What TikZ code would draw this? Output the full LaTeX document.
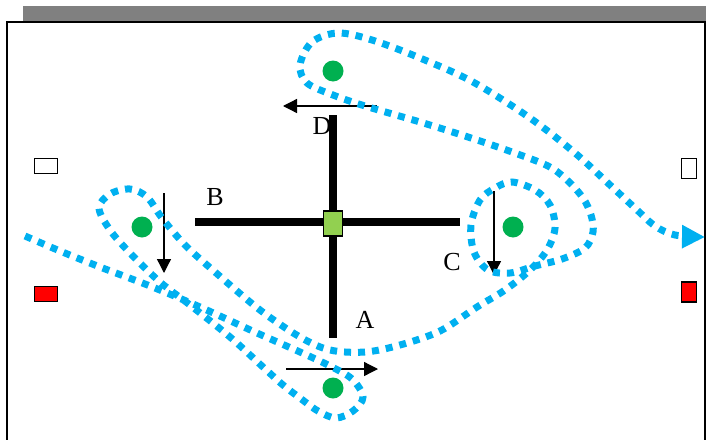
\documentclass[tikz,border=0pt]{standalone}
\usepackage{fontspec}
\setmainfont{Liberation Serif}
\usetikzlibrary{arrows.meta}
\definecolor{flowblue}{HTML}{00B0F0}
\definecolor{dotgreen}{HTML}{00B050}
\definecolor{boxgreen}{HTML}{92D050}
\definecolor{bargray}{HTML}{808080}
\tikzset{
  flow/.style={draw=flowblue, line width=7pt, dash pattern=on 7pt off 7pt},
  gdot/.style={circle, fill=dotgreen, minimum size=21pt, inner sep=0pt},
  bar/.style={line width=7.5pt},
  thinarrow/.style={line width=1.3pt, -{Triangle[length=14pt,width=14pt]}},
  lbl/.style={font=\fontsize{26}{26}\selectfont, inner sep=0pt},
  marker/.style={draw=black, line width=1.6pt, inner sep=0pt},
}
\begin{document}
\begin{tikzpicture}[x=1pt,y=-1pt]
\useasboundingbox (0,0) rectangle (706,439);
% top gray bar and frame
\fill[bargray] (23,6) rectangle (706,20.5);
\draw[line width=2.5pt] (7,450) -- (7,22) -- (705.5,22) -- (705.5,450);
% side markers
\node[marker, fill=white, minimum width=23pt, minimum height=15pt] (lw) at (46,166) {};
\node[marker, fill=red, minimum width=23pt, minimum height=15pt] (lr) at (46,294) {};
\node[marker, fill=white, minimum width=15pt, minimum height=20pt] (rw) at (689,168.5) {};
\node[marker, fill=red, minimum width=15pt, minimum height=20pt] (rr) at (689,292) {};
% cross
\coordinate (hl) at (195,222);
\coordinate (hr) at (460,222);
\coordinate (vt) at (333,115);
\coordinate (vb) at (333,338);
\draw[bar] (hl) -- (hr);
\draw[bar] (vt) -- (vb);
\node[draw=black, fill=boxgreen, line width=1.2pt, minimum width=19pt, minimum height=25pt, inner sep=0pt] (hub) at (333,223.5) {};
% green dots
\node[gdot] (dD) at (333,71) {};
\node[gdot] (dB) at (142,227) {};
\node[gdot] (dC) at (513,227) {};
\node[gdot] (dA) at (333,388) {};
% labels
\node[lbl] (lD) at (322,126) {D};
\node[lbl] (lB) at (215,197) {B};
\node[lbl] (lC) at (452,262) {C};
\node[lbl] (lA) at (365,320) {A};
% thin arrows
\coordinate (aDs) at (377,106); \coordinate (aDe) at (283,106);
\coordinate (aBs) at (164,193); \coordinate (aBe) at (164,273);
\coordinate (aCs) at (494,191); \coordinate (aCe) at (494,275);
\coordinate (aAs) at (286,369); \coordinate (aAe) at (378,369);
\draw[thinarrow] (aDs) -- (aDe);
\draw[thinarrow] (aBs) -- (aBe);
\draw[thinarrow] (aCs) -- (aCe);
\draw[thinarrow] (aAs) -- (aAe);
% dotted flow path
\draw[flow, -{Triangle[length=23pt,width=22pt]}] plot[smooth, tension=0.55] coordinates {
 (25,236) (60,251) (100,267) (150,286) (200,307) (257,333) (300,352) (330,366)
 (352,379) (363,397) (353,411) (336,418) (318,411) (300,398) (283,385) (263,367)
 (230,337) (190,305) (160,282) (130,253) (110,230) (99,208) (110,194) (130,189)
 (147,197) (162,218) (185,245) (215,272) (260,310) (300,337) (330,350) (365,352)
 (400,345) (440,331) (477,307) (505,290) (530,270) (547,250) (555,228) (550,205)
 (535,190) (512,182) (495,188) (480,200) (471,225) (474,252) (488,270) (510,273)
 (535,266) (562,259) (585,248) (593,232) (591,215) (583,198) (567,180) (548,166)
 (512,152) (468,137) (420,122) (365,106) (333,95) (307,83) (300,65) (312,42)
 (338,33) (372,40) (420,58) (473,82) (530,118) (575,153) (610,185) (636,209)
 (655,226) (675,235) (705,237)
};
\end{tikzpicture}
\end{document}
